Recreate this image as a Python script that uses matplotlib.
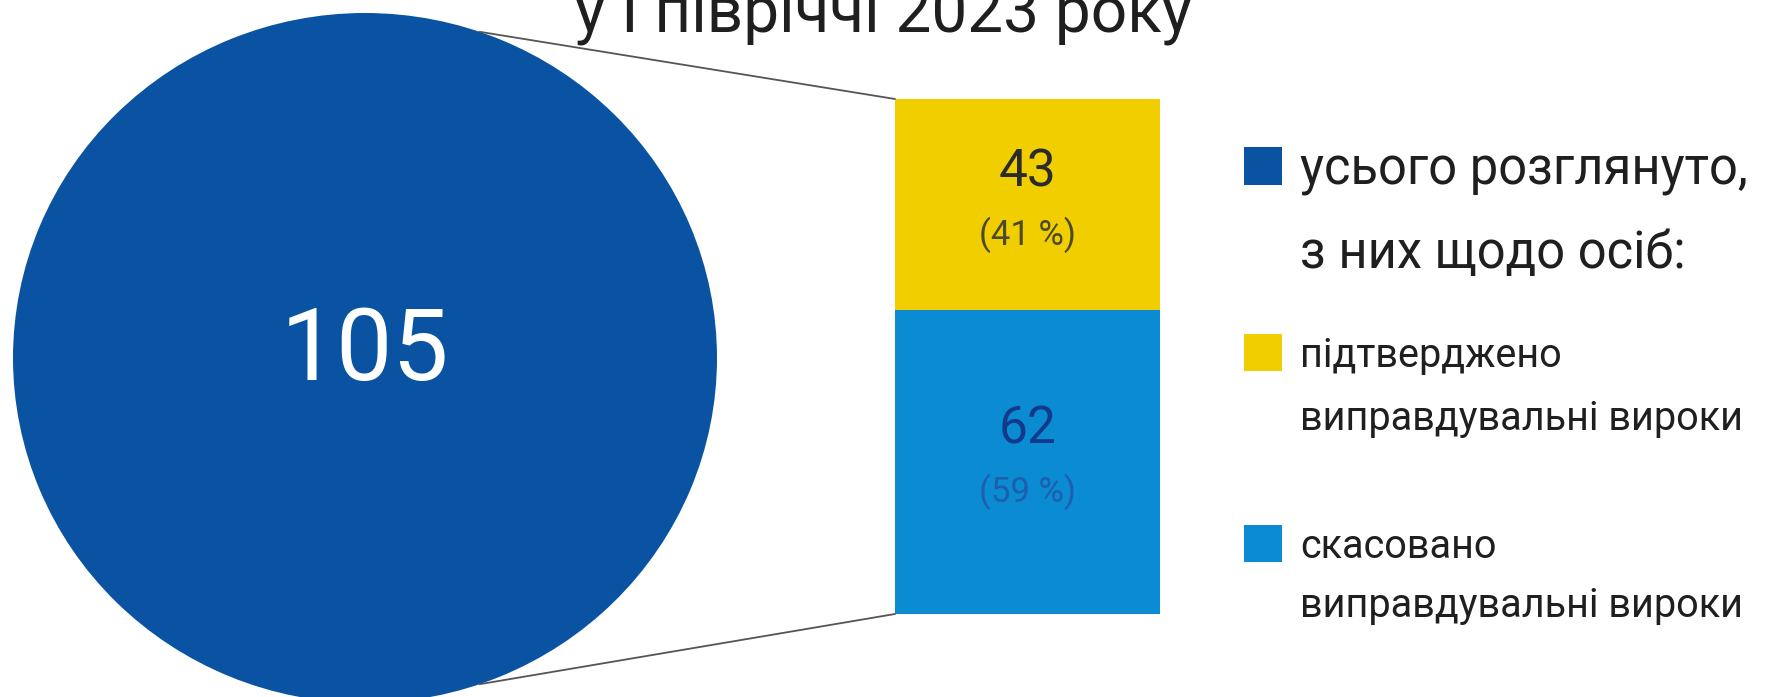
import matplotlib
matplotlib.use('Agg')
import matplotlib.pyplot as plt
from matplotlib.patches import Rectangle, ConnectionPatch
import numpy as np

# ---------------- data ----------------
title_text = "у І півріччі 2023 року"
total_value = 105
total_label = ["усього розглянуто,", "з них щодо осіб:"]
# stacked bar, bottom -> top
segment_values = [62, 43]
segment_labels = [["скасовано", "виправдувальні вироки"],
                  ["підтверджено", "виправдувальні вироки"]]

# ---------------- style ----------------
C_TOTAL = '#0a53a2'
seg_colors = ['#0b8bd2', '#f1ce00']
value_colors = ['#13398c', '#2b2b2b']
pct_colors = ['#1d5fae', '#4d4a2c']
TEXT = '#1f1f1f'

plt.rcParams['font.family'] = ['Roboto', 'DejaVu Sans']

W, H = 1767, 697
fig = plt.figure(figsize=(W / 100, H / 100), dpi=100)
fig.patch.set_facecolor('white')


def box(x0, y0, x1, y1):
    """pixel box (top-left origin) -> figure fraction rect"""
    return [x0 / W, (H - y1) / H, (x1 - x0) / W, (y1 - y0) / H]


def fxy(x, y):
    return x / W, 1 - y / H


# ---------------- pie (whole) ----------------
ax_pie = fig.add_axes(box(13, 13, 717, 703))
ax_pie.pie([total_value], colors=[C_TOTAL], startangle=90, radius=1,
           wedgeprops=dict(linewidth=0))
ax_pie.set_aspect('auto')
ax_pie.set_xlim(-1, 1)
ax_pie.set_ylim(-1, 1)
ax_pie.axis('off')
ax_pie.text(0, -0.064, str(total_value), ha='center', va='baseline',
            fontsize=72, color='white')

# ---------------- stacked bar (breakdown) ----------------
ax_bar = fig.add_axes(box(895, 99, 1160, 614))
bottom = 0
for v, c, vc, pc in zip(segment_values, seg_colors, value_colors, pct_colors):
    ax_bar.bar(0, v, bottom=bottom, width=1, color=c, linewidth=0)
    mid = bottom + v / 2
    pct = round(v / total_value * 100)
    ax_bar.annotate(str(v), xy=(0, mid), xytext=(0, 18 * 0.72),
                    textcoords='offset points', ha='center', va='baseline',
                    fontsize=37, color=vc)
    ax_bar.annotate(f"({pct} %)", xy=(0, mid), xytext=(0, -40 * 0.72),
                    textcoords='offset points', ha='center', va='baseline',
                    fontsize=25, color=pc)
    bottom += v
ax_bar.set_xlim(-0.5, 0.5)
ax_bar.set_ylim(0, sum(segment_values))
ax_bar.axis('off')

# ---------------- connector lines ----------------
for ang, yb in [(71, sum(segment_values)), (-71, 0)]:
    t = np.deg2rad(ang)
    con = ConnectionPatch(xyA=(np.cos(t), np.sin(t)), coordsA=ax_pie.transData,
                          xyB=(-0.5, yb), coordsB=ax_bar.transData,
                          color='#555555', linewidth=1.3)
    fig.add_artist(con)

# ---------------- title ----------------
fig.text(*fxy(883, 33), title_text, ha='center', va='baseline',
         fontsize=46, color=TEXT)

# ---------------- legend ----------------
legend_items = [
    (C_TOTAL, total_label, (147, 185), (185, 268), 36.5),
    (seg_colors[1], segment_labels[1], (334, 371), (367, 430), 28.5),
    (seg_colors[0], segment_labels[0], (525, 562), (558, 617), 28.5),
]
for col, lines, (sy0, sy1), baselines, fs in legend_items:
    fig.patches.append(Rectangle(fxy(1244, sy1), 38 / W, (sy1 - sy0) / H,
                                 transform=fig.transFigure, facecolor=col,
                                 edgecolor='none'))
    for line, yb in zip(lines, baselines):
        fig.text(*fxy(1300, yb), line, ha='left', va='baseline',
                 fontsize=fs, color=TEXT)

fig.savefig('out.png', dpi=100, facecolor='white')
